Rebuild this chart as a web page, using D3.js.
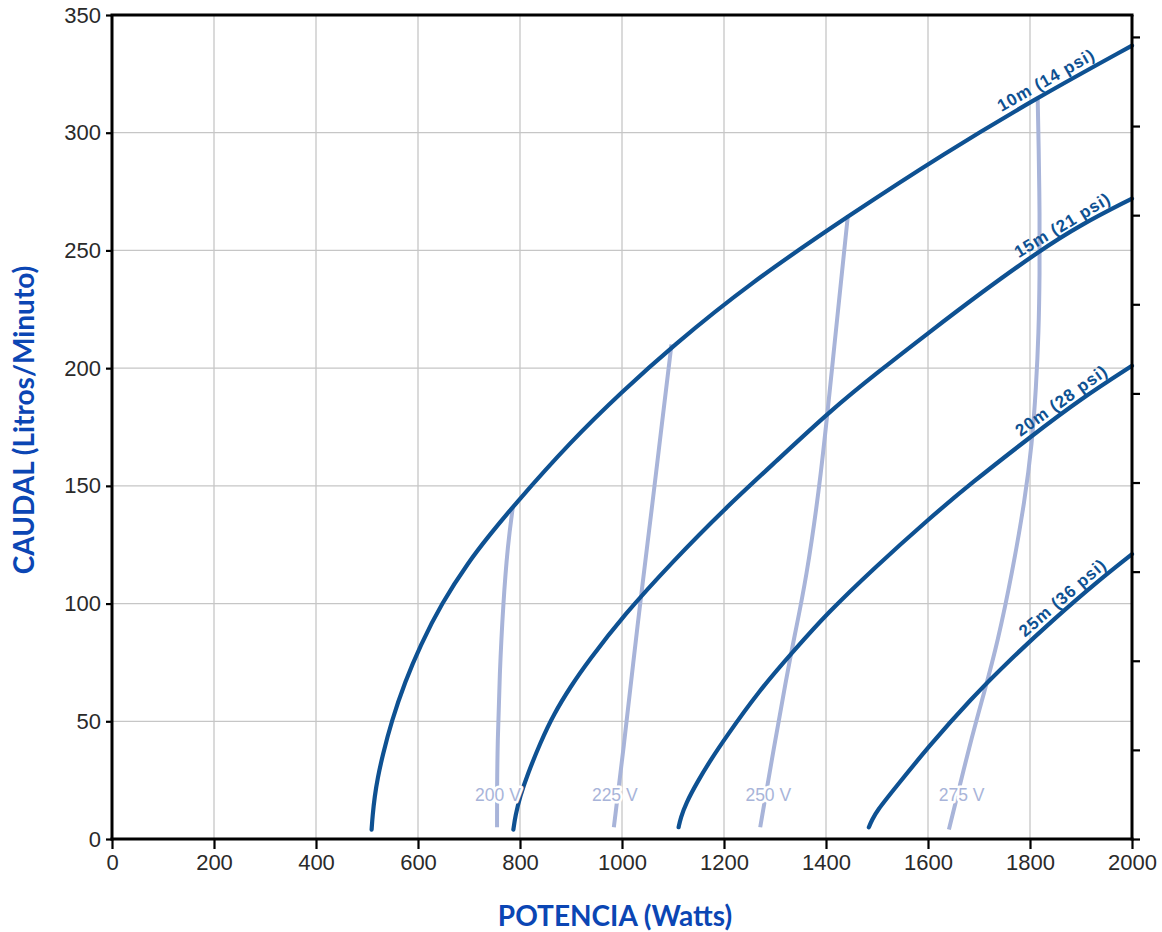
<!DOCTYPE html>
<html>
<head>
<meta charset="utf-8">
<script src="https://cdn.jsdelivr.net/npm/d3@7"></script>
<style>
  html, body { margin: 0; padding: 0; background: #fff; }
  svg { display: block; }
</style>
</head>
<body>
<svg id="chart" width="1162" height="932"></svg>
<script>
// ---------- DATA ----------
const xTicks = [0, 200, 400, 600, 800, 1000, 1200, 1400, 1600, 1800, 2000];
const yTicks = [0, 50, 100, 150, 200, 250, 300, 350];
const gpmTicks = [0, 10, 20, 30, 40, 50, 60, 70, 80, 90];   // right axis (US gal/min), unlabeled

// Head curves: [Watts, Litros/Minuto]
const curve10m = [[509,4],[511,10],[515,18],[521,26],[530,35],[548,50],[575,67],[604,82],[646,100],[700,118],[740,129],[785,141],[900,169],[1000,190],[1097,209],[1250,236],[1446,265],[1630,291],[1815,315],[2000,337]];
const curve15m = [[787,4],[791,10],[800,18],[814,27],[840,41],[866,53],[900,65],[932,75],[1003,95],[1100,118],[1200,140],[1300,160],[1409,182],[1500,198],[1601,215],[1704,232],[1813,249],[1900,261],[2000,272]];
const curve20m = [[1111,5],[1115,9],[1125,15],[1147,24],[1175,34],[1203,43],[1265,62],[1337,80],[1403,96],[1494,115],[1599,135.5],[1684,151],[1802,171],[1900,187],[2000,201]];
const curve25m = [[1484,5],[1490,8],[1500,12],[1533,21],[1600,39],[1684,59.5],[1760,76],[1850,94],[1930,109],[2000,121]];

// Voltage lines
const volt200 = [[755,5],[755,22],[756,40],[760,70],[767,100],[776,125],[786,141]];
const volt225 = [[984,5],[1004,40],[1022,75],[1040,108],[1060,143],[1078,176],[1097,210]];
const volt250 = [[1271,5],[1298,39],[1322,68],[1337,85],[1361,110],[1390,153],[1416,209],[1443,265]];
const volt275 = [[1641,4],[1684,42],[1710,62],[1737,84],[1765,113],[1790,144],[1804,168],[1812,192],[1817,215],[1819,240],[1819,265],[1817,295],[1815,315]];

const headNames = ["10m (14 psi)", "15m (21 psi)", "20m (28 psi)", "25m (36 psi)"];
const headLabelStartW = [1750, 1784, 1788, 1798];
const voltNames = ["200 V", "225 V", "250 V", "275 V"];
const voltLabelW = [712, 941, 1242, 1621];
const voltLabelQ = 16;

const xTitle = "POTENCIA (Watts)";
const yTitle = "CAUDAL (Litros/Minuto)";

// ---------- CHART ----------
const svg = d3.select("#chart");
const L = 112, R = 1132, T = 15, B = 839;
const x = d3.scaleLinear().domain([0, 2000]).range([L, R]);
const y = d3.scaleLinear().domain([0, 350]).range([B, T]);
const yG = d3.scaleLinear().domain([0, 350 / 3.78541]).range([B, T]);

const darkBlue = "#0e5192";
const lightBlue = "#a8b4d9";
const tickFont = "'Liberation Sans', Arial, Helvetica, sans-serif";

// gridlines
const grid = svg.append("g");
grid.selectAll("line.v").data(xTicks.filter(d => d > 0 && d < 2000)).join("line")
  .attr("x1", d => x(d)).attr("x2", d => x(d)).attr("y1", T).attr("y2", B)
  .attr("stroke", "#c6c6c6").attr("stroke-width", 1.3);
grid.selectAll("line.h").data(yTicks.filter(d => d > 0 && d < 350)).join("line")
  .attr("x1", L).attr("x2", R).attr("y1", d => y(d)).attr("y2", d => y(d))
  .attr("stroke", "#c6c6c6").attr("stroke-width", 1.3);

const headLine = d3.line().x(d => x(d[0])).y(d => y(d[1])).curve(d3.curveBasis);
const voltLine = d3.line().x(d => x(d[0])).y(d => y(d[1])).curve(d3.curveBasis);

// voltage lines
const volts = [volt200, volt225, volt250, volt275];
svg.append("g").selectAll("path").data(volts).join("path")
  .attr("d", voltLine).attr("fill", "none").attr("stroke", lightBlue)
  .attr("stroke-width", 4).attr("stroke-linecap", "butt");

// head curves
const heads = [curve10m, curve15m, curve20m, curve25m];
svg.append("g").selectAll("path").data(heads).join("path")
  .attr("d", headLine).attr("fill", "none").attr("stroke", darkBlue)
  .attr("stroke-width", 4.2).attr("stroke-linecap", "round");

// axes
function styleAxis(g) {
  g.select(".domain").attr("stroke", "#000").attr("stroke-width", 3);
  g.selectAll(".tick line").attr("stroke", "#000").attr("stroke-width", 2.2);
  g.selectAll(".tick text").attr("fill", "#2a2a2a").style("font-family", tickFont);
}
const fmt = d3.format("d");
const gx = svg.append("g").attr("transform", `translate(0,${B})`)
  .call(d3.axisBottom(x).tickValues(xTicks).tickFormat(fmt).tickSize(10).tickPadding(5).tickSizeOuter(0));
styleAxis(gx);
gx.selectAll(".tick text").style("font-size", "22px");

const gy = svg.append("g").attr("transform", `translate(${L},0)`)
  .call(d3.axisLeft(y).tickValues(yTicks).tickFormat(fmt).tickSize(6).tickPadding(5).tickSizeOuter(0));
styleAxis(gy);
gy.selectAll(".tick text").style("font-size", "22px");

const gr = svg.append("g").attr("transform", `translate(${R},0)`)
  .call(d3.axisRight(yG).tickValues(gpmTicks).tickSize(8).tickFormat("").tickSizeOuter(0));
styleAxis(gr);

// top border
svg.append("line").attr("x1", L - 1.5).attr("x2", R + 1.5).attr("y1", T).attr("y2", T)
  .attr("stroke", "#000").attr("stroke-width", 3);
gx.select(".domain").attr("d", `M${L - 1.5},0H${R + 1.5}`);
gy.select(".domain").attr("d", `M0,${T}V${B + 1.5}`);
gr.select(".domain").attr("d", `M0,${T}V${B + 1.5}`);

// head curve labels
function qAt(pts, w) {
  for (let i = 1; i < pts.length; i++) {
    if (w <= pts[i][0]) {
      const a = pts[i - 1], b = pts[i];
      return a[1] + (b[1] - a[1]) * (w - a[0]) / (b[0] - a[0]);
    }
  }
  return pts[pts.length - 1][1];
}
heads.forEach((pts, i) => {
  const w0 = headLabelStartW[i], w1 = w0 + 180;
  const px0 = x(w0), py0 = y(qAt(pts, w0));
  const px1 = x(w1), py1 = y(qAt(pts, w1));
  const ang = Math.atan2(py1 - py0, px1 - px0) * 180 / Math.PI;
  svg.append("text")
    .attr("transform", `translate(${px0},${py0}) rotate(${ang})`)
    .attr("dy", -6)
    .attr("fill", darkBlue)
    .style("font-family", tickFont)
    .style("font-weight", "bold")
    .style("font-size", "17px")
    .style("letter-spacing", "0.9px")
    .text(headNames[i]);
});

// voltage labels (white backing)
svg.append("g").selectAll("text").data(voltNames).join("text")
  .attr("x", (d, i) => x(voltLabelW[i]))
  .attr("y", y(voltLabelQ))
  .attr("fill", lightBlue)
  .attr("stroke", "#fff").attr("stroke-width", 5).attr("stroke-linejoin", "round")
  .style("paint-order", "stroke")
  .style("font-family", tickFont)
  .style("font-size", "17.5px")
  .text(d => d);

// axis titles
svg.append("text")
  .attr("x", 615).attr("y", 926)
  .attr("text-anchor", "middle")
  .attr("fill", "#0b46b4")
  .style("font-family", "Lato, 'Open Sans', sans-serif")
  .style("font-weight", "bold")
  .style("font-size", "28px")
  .text(xTitle);

svg.append("text")
  .attr("transform", "translate(34,420) rotate(-90)")
  .attr("text-anchor", "middle")
  .attr("fill", "#0b46b4")
  .style("font-family", "Lato, 'Open Sans', sans-serif")
  .style("font-weight", "bold")
  .style("font-size", "28px")
  .text(yTitle);
</script>
</body>
</html>
